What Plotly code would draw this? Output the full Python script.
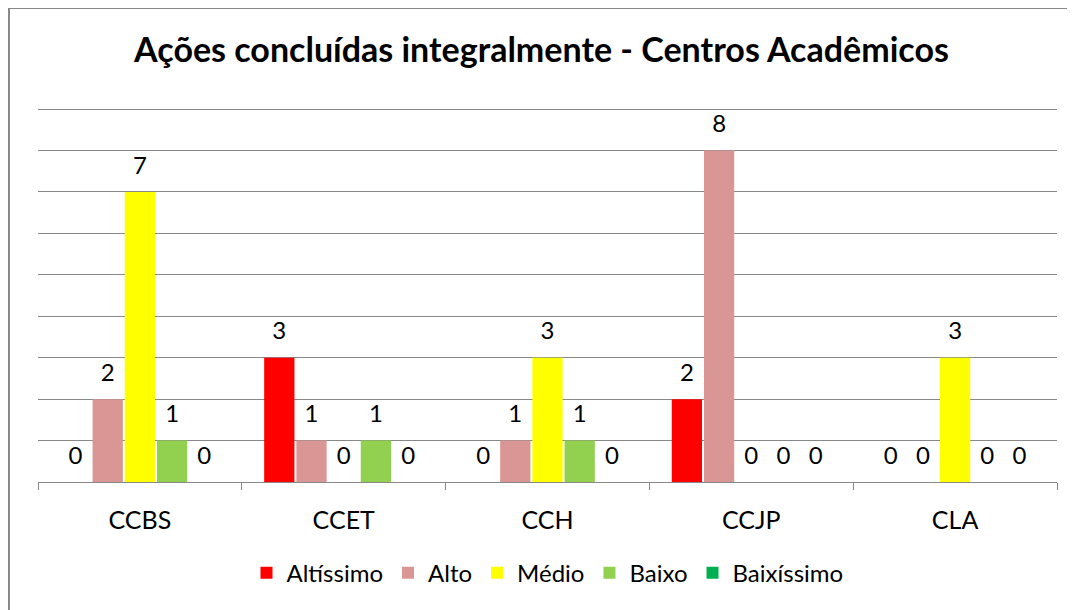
import plotly.graph_objects as go

# categories and series
centros = ['CCBS', 'CCET', 'CCH', 'CCJP', 'CLA']
altissimo = [0, 3, 0, 2, 0]
alto = [2, 1, 1, 8, 0]
medio = [7, 0, 3, 0, 3]
baixo = [1, 1, 1, 0, 0]
baixissimo = [0, 0, 0, 0, 0]

series = [
    ('Altíssimo', altissimo, '#FF0000'),
    ('Alto', alto, '#D99694'),
    ('Médio', medio, '#FFFF00'),
    ('Baixo', baixo, '#92D050'),
    ('Baixíssimo', baixissimo, '#00B050'),
]

font = 'Lato, Open Sans, sans-serif'
gap = 0.21

fig = go.Figure()
for name, vals, color in series:
    fig.add_trace(go.Bar(
        x=centros, y=vals, name=name, offsetgroup=name,
        marker=dict(color=color, line=dict(width=0)),
        textposition='none',
    ))
# data labels, grouped like the bars (invisible markers push the text up)
for name, vals, color in series:
    fig.add_trace(go.Scatter(
        x=centros, y=vals, name=name, offsetgroup=name, showlegend=False,
        mode='markers+text', text=vals, textposition='top center',
        marker=dict(size=18, opacity=0), cliponaxis=False,
        textfont=dict(size=24, color='#000000', family=font),
        hoverinfo='skip',
    ))

fig.update_layout(
    width=1067, height=602,
    barmode='group', bargap=gap, bargroupgap=0.06,
    scattermode='group', scattergap=gap,
    paper_bgcolor='white', plot_bgcolor='white',
    margin=dict(l=30, r=18, t=99, b=128),
    title=dict(text='<b>Ações concluídas integralmente - Centros Acadêmicos</b>',
               x=0.5, xanchor='center', y=0.930, yanchor='middle',
               font=dict(size=34, color='#000000', family=font)),
    font=dict(family=font, size=24, color='#000000'),
    showlegend=True,
    legend=dict(orientation='h', x=0.5, xanchor='center', y=-0.243, yanchor='middle',
                font=dict(size=24), traceorder='normal'),
)
fig.update_xaxes(showline=True, linecolor='#888888', linewidth=1,
                 ticks='outside', tickson='boundaries', ticklen=7, tickcolor='#888888',
                 tickfont=dict(size=25), ticklabelstandoff=16, showgrid=False)
fig.update_yaxes(range=[0, 9.05], dtick=1, showticklabels=False, showgrid=True,
                 gridcolor='#888888', gridwidth=1, zeroline=False, showline=False,
                 ticks='')

# chart border (cropped on right and bottom)
fig.add_shape(type='rect', xref='paper', yref='paper',
              x0=-0.0285, x1=1.03, y0=-0.36, y1=1.264,
              line=dict(color='#888888', width=2))

fig.write_html('out.html')
